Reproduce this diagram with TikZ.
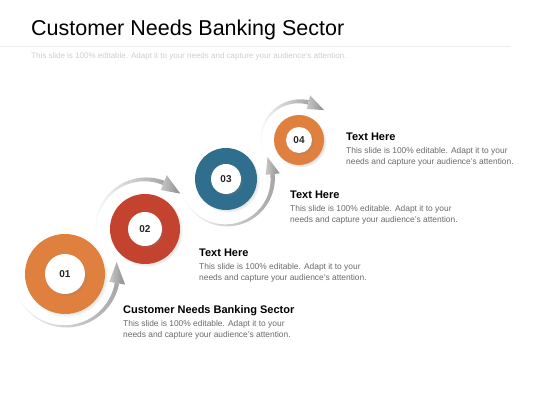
\documentclass[tikz,border=0pt]{standalone}
\usepackage{fontspec}
\setmainfont{Liberation Sans}
\usepackage{xcolor}
\usetikzlibrary{shadows,positioning}
\definecolor{ring-orange}{HTML}{E0803E}
\definecolor{ring-red}{HTML}{C4432F}
\definecolor{ring-blue}{HTML}{2F6E8C}
\definecolor{body-gray}{HTML}{6A6A6A}
\definecolor{sub-gray}{HTML}{CFCFCF}
\definecolor{arc-light}{HTML}{FAFAFA}
\definecolor{arc-dark}{HTML}{A6A6A6}
\definecolor{head-light}{HTML}{C8C8C8}
\definecolor{head-dark}{HTML}{8C8C8C}
\tikzset{
    title-text/.style = {anchor=base west, inner sep=0pt, font=\fontsize{21.5}{24}\selectfont},
    sub-text/.style = {anchor=base west, inner sep=0pt, text=sub-gray, font=\fontsize{8}{10}\selectfont},
    ring/.style = {circle, inner sep=0pt, minimum size=#1, circular drop shadow={shadow scale=1.04, opacity=0.3}},
    num-disc/.style = {circle, fill=white, inner sep=0pt, minimum size=#1, text=black!85, font=\fontsize{10}{12}\selectfont\bfseries, circular drop shadow={shadow scale=1.05, opacity=0.25}},
    head-text/.style = {anchor=base west, inner sep=0pt, font=\fontsize{11}{13}\selectfont\bfseries},
    body-text/.style = {anchor=north west, align=left, inner sep=0pt, text=body-gray, font=\fontsize{8.4}{11}\selectfont},
    turn-arrow/.style = {left color=arc-light, right color=arc-dark},
    turn-head/.style = {left color=head-light, right color=head-dark},
}

\begin{document}
\begin{tikzpicture}[x=1pt, y=1pt]
\useasboundingbox[fill=white] (0,0) rectangle (560,420);

\node[title-text] (title) at (31,384) {Customer Needs Banking Sector};
\draw[black!7, line width=1pt] (0,373) -- (511,373);
\node[sub-text] (subtitle) at (31,361) {This slide is 100\% editable. Adapt it to your needs and capture your audience's attention.};

\node[ring=80, fill=ring-orange] (ring1) at (65,146) {};
\node[ring=70, fill=ring-red] (ring2) at (145,191) {};
\node[ring=62, fill=ring-blue] (ring3) at (226,241) {};
\node[ring=50, fill=ring-orange] (ring4) at (299,280) {};
\node[num-disc=40] (num1) at (ring1) {01};
\node[num-disc=34] (num2) at (ring2) {02};
\node[num-disc=30] (num3) at (ring3) {03};
\node[num-disc=26] (num4) at (ring4) {04};

\foreach \c/\r/\a/\b/\t/\h in {ring1/52/195/350/373/9, ring2/49/205/68/45/9, ring3/46/195/366/388/8, ring4/38/200/76/50/8}{
  \begin{scope}[shift={(\c.center)}]
    \path[turn-arrow] plot[domain=\a:\b, samples=40] (\x:{\r+3*(\x-\a)/(\b-\a)}) -- plot[domain=\b:\a, samples=40] (\x:{\r-1.5*(\x-\a)/(\b-\a)}) -- cycle;
    \path[turn-head] (\b:{\r+\h}) -- (\t:{\r+1}) -- (\b:{\r-\h+2}) -- cycle;
  \end{scope}
}

\node[head-text] (head1) at (123,106) {Customer Needs Banking Sector};
\node[body-text] (body1) at ([yshift=-6pt]head1.base west) {This slide is 100\% editable. Adapt it to your\\needs and capture your audience's attention.};
\node[head-text] (head2) at (199,163) {Text Here};
\node[body-text] (body2) at ([yshift=-6pt]head2.base west) {This slide is 100\% editable. Adapt it to your\\needs and capture your audience's attention.};
\node[head-text] (head3) at (290,221) {Text Here};
\node[body-text] (body3) at ([yshift=-6pt]head3.base west) {This slide is 100\% editable. Adapt it to your\\needs and capture your audience's attention.};
\node[head-text] (head4) at (346,279) {Text Here};
\node[body-text] (body4) at ([yshift=-6pt]head4.base west) {This slide is 100\% editable. Adapt it to your\\needs and capture your audience's attention.};
\end{tikzpicture}
\end{document}
